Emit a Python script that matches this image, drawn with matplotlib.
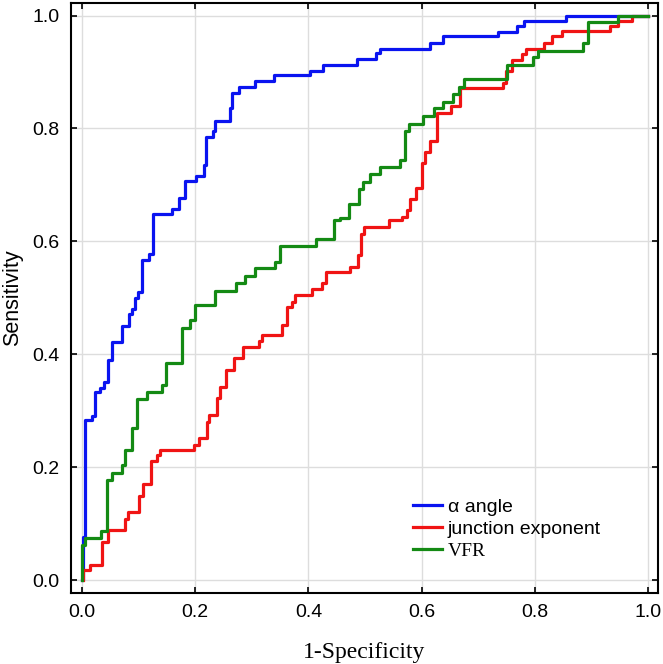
import matplotlib
matplotlib.use("Agg")
import matplotlib.pyplot as plt
from matplotlib.lines import Line2D

# ROC step curves: (1-specificity, sensitivity) at each riser
alpha_fpr = [0, 0.002, 0.006, 0.019, 0.023, 0.032, 0.040, 0.047, 0.053, 0.071, 0.0835, 0.089, 0.094,
             0.100, 0.106, 0.118, 0.125, 0.159, 0.172, 0.182, 0.201, 0.215, 0.219, 0.231, 0.235, 0.261,
             0.265, 0.278, 0.306, 0.340, 0.402, 0.425, 0.485, 0.520, 0.527, 0.615, 0.637, 0.735, 0.768,
             0.781, 0.855, 1.0]
alpha_tpr = [0, 0.077, 0.283, 0.290, 0.334, 0.341, 0.351, 0.390, 0.422, 0.450, 0.471, 0.481, 0.500,
             0.510, 0.567, 0.578, 0.648, 0.658, 0.676, 0.707, 0.716, 0.736, 0.785, 0.796, 0.814, 0.836,
             0.863, 0.873, 0.884, 0.895, 0.902, 0.912, 0.923, 0.933, 0.941, 0.951, 0.963, 0.971, 0.981,
             0.990, 1.0, 1.0]

junction_fpr = [0.003, 0.003, 0.015, 0.035, 0.047, 0.077, 0.082, 0.101, 0.109, 0.122, 0.132, 0.138,
                0.199, 0.207, 0.221, 0.225, 0.238, 0.244, 0.254, 0.268, 0.285, 0.313, 0.318, 0.354,
                0.362, 0.371, 0.377, 0.406, 0.424, 0.431, 0.474, 0.487, 0.493, 0.499, 0.543, 0.565,
                0.574, 0.580, 0.590, 0.601, 0.606, 0.615, 0.627, 0.651, 0.667, 0.744, 0.749, 0.759,
                0.777, 0.784, 0.815, 0.830, 0.847, 0.933, 0.947, 0.971, 1.0]
junction_tpr = [0, 0.018, 0.027, 0.068, 0.089, 0.109, 0.121, 0.149, 0.170, 0.211, 0.222, 0.230,
                0.239, 0.251, 0.280, 0.292, 0.322, 0.342, 0.372, 0.393, 0.413, 0.423, 0.434, 0.452,
                0.484, 0.493, 0.505, 0.515, 0.526, 0.546, 0.555, 0.576, 0.614, 0.626, 0.638, 0.644,
                0.655, 0.675, 0.694, 0.738, 0.759, 0.777, 0.827, 0.840, 0.871, 0.880, 0.901, 0.921,
                0.932, 0.941, 0.951, 0.963, 0.973, 0.981, 0.991, 1.0, 1.0]

vfr_fpr = [0, 0, 0.006, 0.034, 0.044, 0.053, 0.071, 0.076, 0.088, 0.097, 0.115, 0.141, 0.149, 0.1765,
           0.191, 0.200, 0.235, 0.272, 0.288, 0.306, 0.341, 0.350, 0.413, 0.445, 0.456, 0.472, 0.490,
           0.497, 0.509, 0.527, 0.561, 0.571, 0.578, 0.603, 0.622, 0.638, 0.656, 0.665, 0.675, 0.751,
           0.797, 0.806, 0.885, 0.894, 0.947, 1.0]
vfr_tpr = [0, 0.062, 0.074, 0.087, 0.177, 0.190, 0.204, 0.230, 0.269, 0.321, 0.334, 0.345, 0.384, 0.447,
           0.461, 0.488, 0.513, 0.526, 0.539, 0.553, 0.564, 0.591, 0.604, 0.638, 0.641, 0.666, 0.692,
           0.706, 0.719, 0.732, 0.744, 0.796, 0.808, 0.822, 0.836, 0.847, 0.861, 0.874, 0.888, 0.912,
           0.927, 0.937, 0.951, 0.989, 1.0, 1.0]

ticks = [0.0, 0.2, 0.4, 0.6, 0.8, 1.0]

fig = plt.figure(figsize=(6.63, 6.64), dpi=100)
ax = fig.add_axes([0.107, 0.107, 0.8855, 0.888])

ax.plot(alpha_fpr, alpha_tpr, drawstyle='steps-post', color='#0a14f0', lw=2.3)
ax.plot(junction_fpr, junction_tpr, drawstyle='steps-post', color='#f01414', lw=2.3)
ax.plot(vfr_fpr, vfr_tpr, drawstyle='steps-post', color='#148a14', lw=2.3)

ax.set_xlim(-0.019, 1.017)
ax.set_ylim(-0.0225, 1.0216)
ax.set_xticks(ticks)
ax.set_yticks(ticks)
ax.set_xticklabels(['%.1f' % t for t in ticks], family='Liberation Sans', fontsize=14)
ax.set_yticklabels(['%.1f' % t for t in ticks], family='Liberation Sans', fontsize=14)
ax.tick_params(direction='in', length=4, width=1.2, top=True, right=True, pad=8, color='black')
ax.grid(True, color='#dddddd', lw=1)
ax.set_axisbelow(True)
for s in ax.spines.values():
    s.set_linewidth(1.5)

ax.set_xlabel('1-Specificity', family='Liberation Serif', fontsize=17, labelpad=15)
ax.set_ylabel('Sensitivity', family='Liberation Sans', fontsize=15.5, labelpad=7)

handles = [Line2D([], [], color='#0a14f0', lw=2.3),
           Line2D([], [], color='#f01414', lw=2.3),
           Line2D([], [], color='#148a14', lw=2.3)]
leg = ax.legend(handles, ['α angle', 'junction exponent', 'VFR'], loc='upper left',
                bbox_to_anchor=(0.5826, 0.161), frameon=False, fontsize=14,
                handlelength=1.5, handletextpad=0.3, labelspacing=0.23, borderpad=0,
                borderaxespad=0)
texts = leg.get_texts()
texts[0].set_family('Liberation Sans')
texts[1].set_family('Liberation Sans')
texts[2].set_family('Liberation Serif')

fig.savefig('out.png', dpi=100)
